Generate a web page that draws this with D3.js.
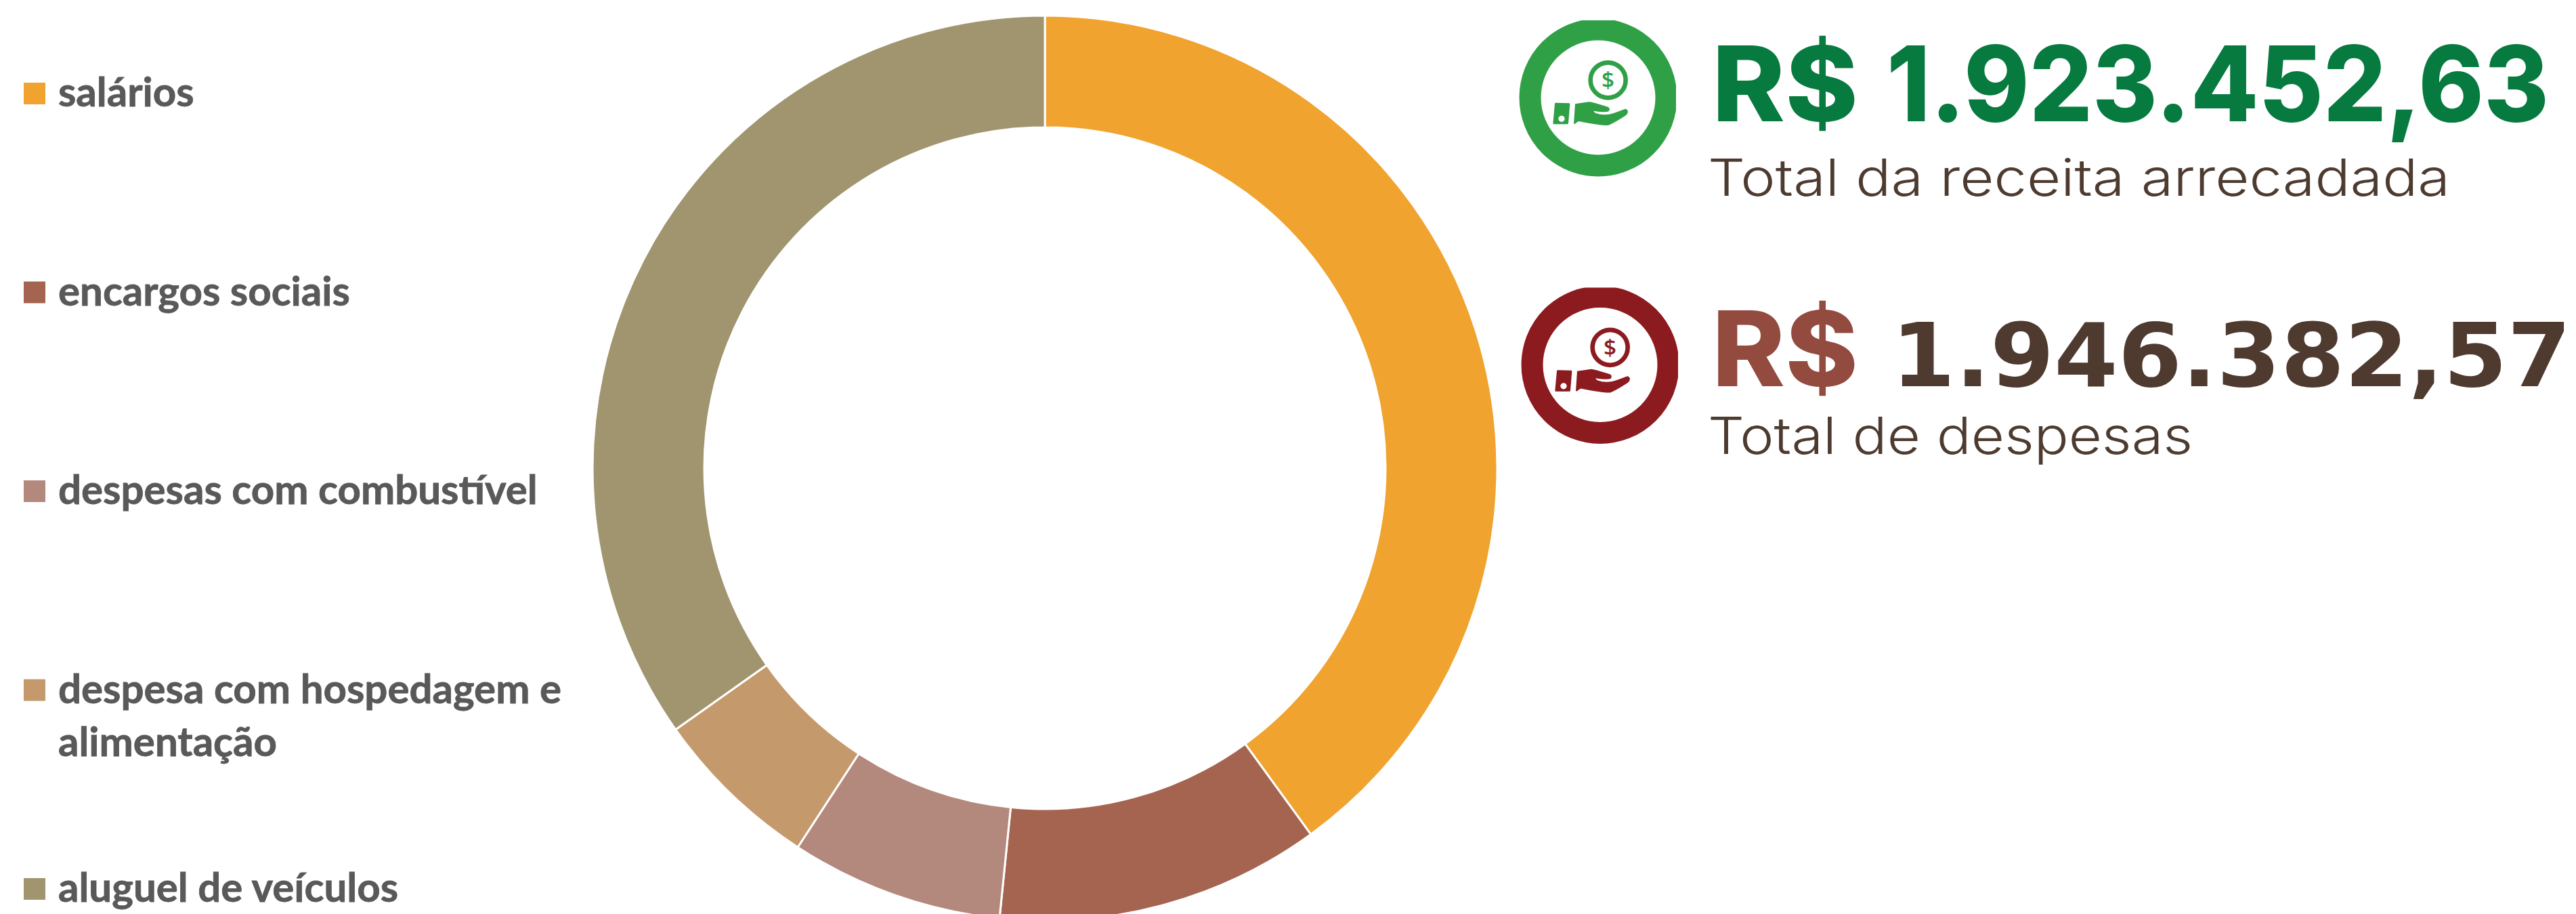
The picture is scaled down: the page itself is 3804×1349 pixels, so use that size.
<!DOCTYPE html>
<html>
<head>
<meta charset="utf-8">
<script src="https://cdn.jsdelivr.net/npm/d3@7"></script>
<style>
  html, body { margin: 0; padding: 0; background: #fff; overflow: hidden; }
  svg { display: block; }
</style>
</head>
<body>
<script>
const WIDTH = 3804;
const HEIGHT = 1349;

// share of each expense, in percent
const categories = ['salários', 'encargos sociais', 'despesas com combustível', 'despesa com hospedagem e', 'aluguel de veículos'];
const extraLines = ['', '', '', 'alimentação', ''];
const shares = [40.0, 11.6, 7.6, 6.0, 34.8];
const colors = ['#f0a32f', '#a46450', '#b4897d', '#c4996c', '#a19570'];

const currency = 'R$';
const revenueValue = '1.923.452,63';
const expenseValue = '1.946.382,57';
const revenueLabel = 'Total da receita arrecadada';
const expenseLabel = 'Total de despesas';

var translate = function(x, y){
  return 'translate(' + x + ',' + y + ')';
};

var svg = d3.select('body')
  .append('svg')
  .attr('width', WIDTH)
  .attr('height', HEIGHT)
  .attr('viewBox', '0 0 ' + WIDTH + ' ' + HEIGHT);

var color = d3.scaleOrdinal().domain(categories).range(colors);

// ring
var pie = d3.pie().sort(null).value(function(d){ return d; });
var arc = d3.arc().innerRadius(503).outerRadius(668);

svg.append('g')
  .attr('transform', translate(1543, 691))
  .selectAll('path')
  .data(pie(shares))
  .enter()
  .append('path')
  .attr('d', arc)
  .attr('fill', function(d, i){ return color(categories[i]); })
  .attr('stroke', '#fff')
  .attr('stroke-width', 3);

// legend
var legendY = d3.scalePoint().domain(categories).range([138, 1312]);

var legend = svg.append('g')
  .selectAll('g')
  .data(categories)
  .enter()
  .append('g')
  .attr('transform', function(d){ return translate(35, legendY(d)); });

legend.append('rect')
  .attr('y', -16)
  .attr('width', 32)
  .attr('height', 32)
  .attr('fill', function(d){ return color(d); });

var styleLegend = function(sel){
  sel.attr('x', 51)
    .style('font-family', 'Lato')
    .style('font-weight', 700)
    .style('font-size', '60px')
    .style('fill', '#595959')
    .style('stroke', '#595959')
    .style('stroke-width', 0.8);
};

legend.append('text')
  .attr('y', 19)
  .call(styleLegend)
  .text(function(d){ return d; });

legend.filter(function(d, i){ return extraLines[i] !== ''; })
  .append('text')
  .attr('y', 97)
  .call(styleLegend)
  .text(function(d){ return extraLines[categories.indexOf(d)]; });

// hand and coin icon, drawn in 3x units like the zoomed crop
var HAND = 'M292 455 L352 457 Q356 458 355 462 L348 546 Q347 550 343 550 L284 550 Q280 550 280 546 L288 459 Q288 455 292 455 Z'
  + ' M318 512 A14 14 0 1 0 318 540 A14 14 0 1 0 318 512 Z'
  + ' M378 460 L440 451 Q455 452 525 474 Q534 480 528 492 Q515 500 460 491 Q460 497 470 501 Q510 516 560 497 L600 482 Q612 484 612 495 Q610 508 595 516 Q550 545 525 555 Q500 558 395 537 Q385 540 378 548 L372 548 Z';

var drawIcon = function(id, dx, dy, fill){
  var defs = svg.append('defs');
  defs.append('clipPath').attr('id', id)
    .append('rect')
    .attr('x', 2240 + dx).attr('y', 30 + dy)
    .attr('width', 235).attr('height', 235);

  var g = svg.append('g').attr('clip-path', 'url(#' + id + ')');
  g.append('circle')
    .attr('cx', 2360 + dx).attr('cy', 144 + dy).attr('r', 100.5)
    .attr('fill', 'none').attr('stroke', fill).attr('stroke-width', 32);

  var icon = g.append('g').attr('transform', translate(2200 + dx, dy) + ' scale(0.3333)');
  icon.append('path').attr('d', HAND).attr('fill', fill).attr('fill-rule', 'evenodd');
  icon.append('circle')
    .attr('cx', 524).attr('cy', 355).attr('r', 78)
    .attr('fill', 'none').attr('stroke', fill).attr('stroke-width', 20);
  icon.append('text')
    .attr('x', 524).attr('y', 391)
    .attr('text-anchor', 'middle')
    .style('font-family', 'Open Sans')
    .style('font-size', '100px')
    .style('font-weight', 600)
    .style('fill', fill)
    .text('$');
};

drawIcon('clipGreen', 0, 0, '#30a046');
drawIcon('clipRed', 3, 394.5, '#8c1b20');

// totals
var bigText = function(str, x, y, w, size, family, weight, fill){
  svg.append('text')
    .attr('x', x)
    .attr('y', y)
    .attr('textLength', w)
    .attr('lengthAdjust', 'spacingAndGlyphs')
    .style('font-family', family)
    .style('font-size', size + 'px')
    .style('font-weight', weight)
    .style('fill', fill)
    .text(str);
};

bigText(currency, 2528, 179, 216, 154, 'Inter', 800, '#077a3f');
bigText(revenueValue, 2786, 179, 978, 154, 'Inter', 800, '#077a3f');
bigText(revenueLabel, 2522, 289, 1096, 76, 'Inter', 300, '#4e3b30');

bigText(currency, 2528, 570, 216, 154, 'Inter', 800, '#934a3f');
bigText(expenseValue, 2793, 570, 1004, 130, 'DejaVu Sans', 700, '#4e3a2f');
bigText(expenseLabel, 2522, 670, 716, 76, 'Inter', 300, '#4e3b30');

</script>
</body>
</html>
